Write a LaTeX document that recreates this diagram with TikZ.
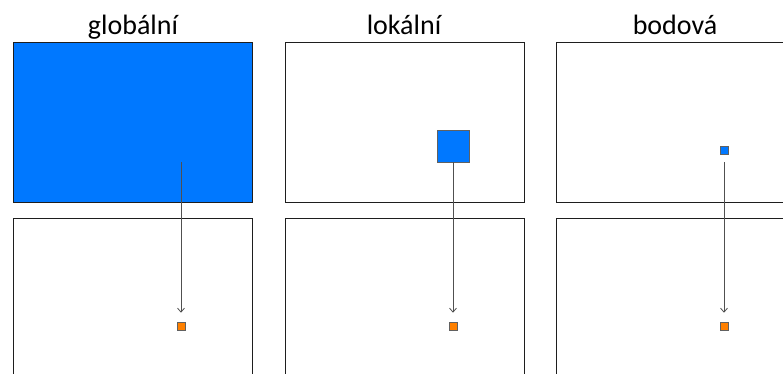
\documentclass[tikz,border=0pt]{standalone}
\usepackage{fontspec}
\setsansfont{Carlito}
\usepackage{tikz}
\usetikzlibrary{arrows.meta,positioning}
\definecolor{src}{RGB}{0,120,255}
\definecolor{dst}{RGB}{255,128,0}
\definecolor{frame}{RGB}{30,30,30}
\definecolor{link}{RGB}{80,80,80}
\tikzset{
  img/.style={draw=frame, line width=1.2pt, minimum width=239pt, minimum height=160pt,
    inner sep=0pt, anchor=north west},
  srcbox/.style={draw=frame!70, line width=0.6pt, fill=src, inner sep=0pt},
  pix/.style={draw=frame!70, line width=0.6pt, fill=dst, minimum size=8pt, inner sep=0pt},
  map/.style={draw=link, line width=0.8pt, -{Straight Barb[length=4pt,width=7pt]}},
  title/.style={font=\sffamily\fontsize{28}{32}\selectfont, anchor=base}
}
\begin{document}
\begin{tikzpicture}[x=1pt, y=-1pt]
    \useasboundingbox (0,0) rectangle (783,374);
    \clip (0,0) rectangle (783,374);
    % sloupce x=13, 285, 556; horni radek y=42, dolni y=218
    \node[title] (t1) at (133,35) {globální};
    \node[title] (t2) at (404,35) {lokální};
    \node[title] (t3) at (675,35) {bodová};

    \node[img, fill=src] (in1) at (13,42)  {};
    \node[img] (in2) at (285,42) {};
    \node[img] (in3) at (556,42) {};

    \node[img] (out1) at (13,218)  {};
    \node[img] (out2) at (285,218) {};
    \node[img] (out3) at (556,218) {};

    % oblasti vstupu
    \coordinate (c1) at (181,162);
    \node[srcbox, minimum size=32pt] (c2) at (453,146) {};
    \node[srcbox, minimum size=8pt] (c3) at (724,150) {};

    % vystupni body
    \node[pix] (p1) at (181,326) {};
    \node[pix] (p2) at (453,326) {};
    \node[pix] (p3) at (724,326) {};

    \draw[map] (c1) -- ([yshift=9pt]p1.north);
    \draw[map] (c2.south) -- ([yshift=9pt]p2.north);
    \draw[map] ([yshift=-8pt]c3.south) -- ([yshift=9pt]p3.north);
\end{tikzpicture}
\end{document}
